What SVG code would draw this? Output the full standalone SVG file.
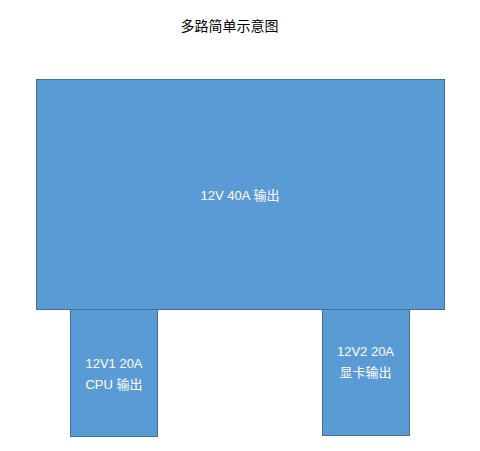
<svg xmlns="http://www.w3.org/2000/svg" width="480" height="451" viewBox="0 0 480 451">
<style>
.box{fill:#5B9BD5;stroke:#41719C;stroke-width:1}
.lbl{font-family:"Liberation Sans","Noto Sans CJK SC",sans-serif;font-size:13px;fill:#FFFFFF;text-anchor:middle}
.title{font-family:"Noto Sans CJK SC","Liberation Sans",sans-serif;font-size:14px;fill:#000000;text-anchor:middle}
</style>
<rect width="480" height="451" fill="#FFFFFF"/>
<text class="title" x="229.5" y="30.5">多路简单示意图</text>
<g id="main">
<rect class="box" x="36.5" y="79.5" width="408" height="230"/>
<text class="lbl" x="240" y="199.5">12V 40A 输出</text>
</g>
<g id="cpu">
<rect class="box" x="70.5" y="309.5" width="87" height="127"/>
<text class="lbl" x="114" y="367.5">12V1 20A</text>
<text class="lbl" x="114" y="389">CPU 输出</text>
</g>
<g id="gpu">
<rect class="box" x="322.5" y="309.5" width="87" height="126"/>
<text class="lbl" x="365.5" y="355.5">12V2 20A</text>
<text class="lbl" x="365.5" y="377">显卡输出</text>
</g>
<g id="connectors"></g>
</svg>
